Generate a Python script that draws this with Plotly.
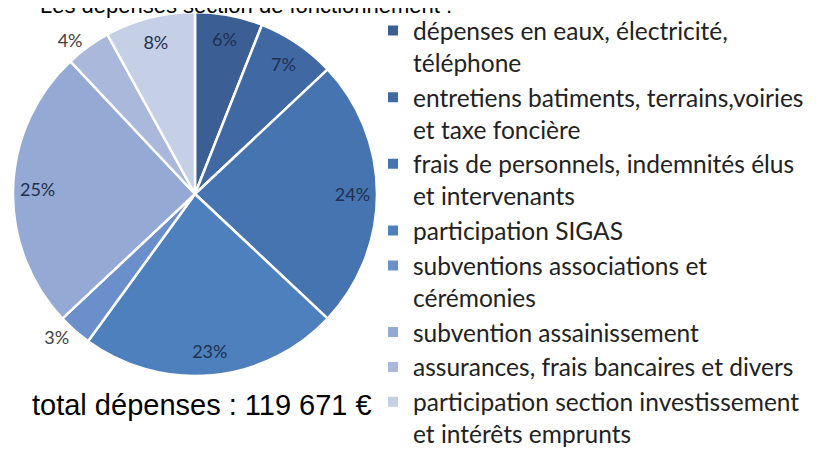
import plotly.graph_objects as go

labels = [
    "dépenses en eaux, électricité,<br>téléphone",
    "entretiens batiments, terrains,voiries<br>et taxe foncière",
    "frais de personnels, indemnités élus<br>et intervenants",
    "participation SIGAS",
    "subventions associations et<br>cérémonies",
    "subvention assainissement",
    "assurances, frais bancaires et divers",
    "participation section investissement<br>et intérêts emprunts",
]
percents = [6, 7, 24, 23, 3, 25, 4, 8]
colors = ["#3b5f95", "#4068a3", "#4574b0", "#4e80bd", "#6a8fca", "#94aad4", "#aab9db", "#c5cfe5"]
text_pos = ["inside", "inside", "inside", "inside", "outside", "inside", "outside", "inside"]
title_text = "Les dépenses section de fonctionnement :"
total_text = "total dépenses : 119 671 €"

W, H = 816, 456
# the page adds an 8px body margin: positions below are in figure pixels
cx, cy, r = 187, 186, 182
dom = dict(x=[(cx - r) / W, (cx + r) / W], y=[(H - cy - r) / H, (H - cy + r) / H])

fig = go.Figure()
fig.add_trace(go.Pie(
    labels=labels,
    values=percents,
    sort=False,
    direction="clockwise",
    rotation=0,
    marker=dict(colors=colors, line=dict(color="white", width=2.5)),
    textinfo="none",
    domain=dom,
    hoverinfo="label+percent",
))
# transparent ring carrying the percentage labels further out, like the original
fig.add_trace(go.Pie(
    labels=labels,
    values=percents,
    sort=False,
    direction="clockwise",
    rotation=0,
    hole=0.73,
    marker=dict(colors=["rgba(0,0,0,0)"] * len(percents), line=dict(width=0)),
    texttemplate="%{value}%",
    textposition=text_pos,
    insidetextorientation="horizontal",
    insidetextfont=dict(family="Lato", size=18, color="#1f2f4f"),
    outsidetextfont=dict(family="Lato", size=18, color="#404040"),
    domain=dom,
    hoverinfo="skip",
    showlegend=False,
))

fig.add_annotation(
    text=title_text, xref="paper", yref="paper",
    x=30 / W, y=1 - 12 / H, xanchor="left", yanchor="bottom",
    showarrow=False, font=dict(family="Liberation Sans", size=22, color="black"),
)
fig.add_annotation(
    text=total_text, xref="paper", yref="paper",
    x=22 / W, y=1 - 397 / H, xanchor="left", yanchor="middle",
    showarrow=False, font=dict(family="Liberation Sans", size=29, color="black"),
)

fig.update_layout(
    width=W, height=H,
    margin=dict(l=0, r=0, t=0, b=0),
    paper_bgcolor="white", plot_bgcolor="white",
    showlegend=True,
    legend=dict(
        x=365 / W, y=1, xanchor="left", yanchor="top",
        font=dict(family="Lato", size=24.5, color="#222222"),
        itemsizing="constant", traceorder="normal", valign="top",
        bgcolor="rgba(0,0,0,0)",
    ),
)

fig.write_html("out.html")
